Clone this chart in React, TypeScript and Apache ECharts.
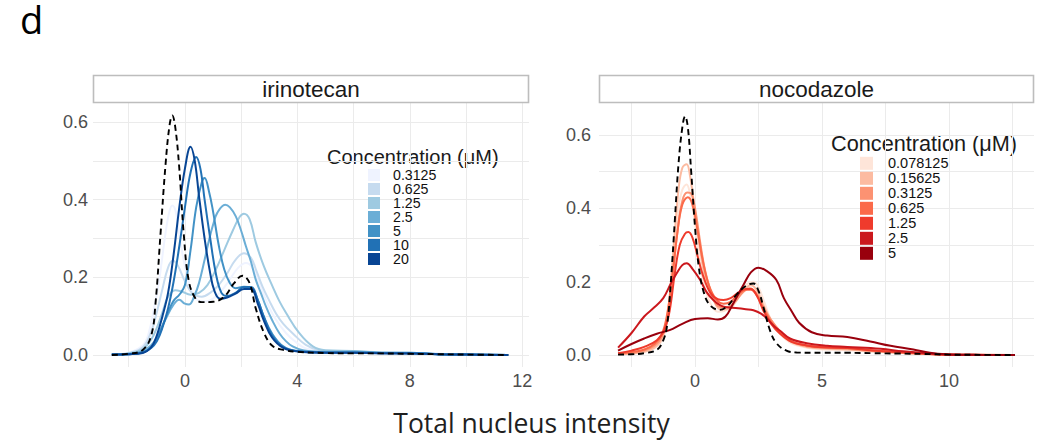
import React, { useEffect, useRef } from 'react';
import * as echarts from 'echarts';

// ---------- categories / legend ----------
const irinoConc = ['0.3125', '0.625', '1.25', '2.5', '5', '10', '20'];
const nocoConc = ['0.078125', '0.15625', '0.3125', '0.625', '1.25', '2.5', '5'];
const bluePalette = ['#eff3ff', '#c6dbef', '#9ecae1', '#6baed6', '#4292c6', '#2171b5', '#084594'];
const redPalette = ['#fee5d9', '#fcbba1', '#fc9272', '#fb6a4a', '#ef3b2c', '#cb181d', '#99000d'];

// ---------- tick labels ----------
const irinoXTicks = [0, 4, 8, 12];
const irinoXGrid = [-2, 0, 2, 4, 6, 8, 10, 12];
const nocoXTicks = [0, 5, 10];
const nocoXGrid = [-2.5, 0, 2.5, 5, 7.5, 10, 12.5];
const yTicks = [0, 0.2, 0.4, 0.6];
const yGrid = [0, 0.1, 0.2, 0.3, 0.4, 0.5, 0.6];

// ---------- irinotecan densities [x, density] ----------
const irinoControl = [[-2.6,0],[-2,0.003],[-1.5,0.013],[-1.2,0.05],[-1.05,0.13],[-0.87,0.31],[-0.69,0.49],[-0.55,0.59],[-0.45,0.617],[-0.35,0.59],[-0.21,0.49],[-0.04,0.31],[0.14,0.19],[0.38,0.145],[0.6,0.136],[1.0,0.137],[1.4,0.15],[1.75,0.185],[2.05,0.204],[2.3,0.185],[2.52,0.12],[2.82,0.056],[3.12,0.023],[3.5,0.013],[4,0.008],[5,0.005],[6,0.004],[7,0.004],[8,0.003],[9,0.002],[10,0.001],[11.5,0]];
const irino0p3125 = [[-2.6,0.001],[-2,0.006],[-1.5,0.025],[-1.29,0.056],[-1.1,0.12],[-0.93,0.185],[-0.69,0.314],[-0.55,0.37],[-0.45,0.385],[-0.33,0.37],[-0.21,0.314],[0,0.228],[0.26,0.16],[0.5,0.14],[0.74,0.138],[1.0,0.145],[1.3,0.165],[1.6,0.195],[1.9,0.225],[2.17,0.237],[2.4,0.225],[2.65,0.185],[2.88,0.142],[3.2,0.095],[3.6,0.056],[4.0,0.03],[4.3,0.017],[5,0.01],[6,0.008],[7,0.007],[8,0.006],[9,0.003],[10,0.001],[11.5,0]];
const irino0p625 = [[-2.6,0.001],[-2,0.005],[-1.5,0.02],[-1.2,0.06],[-1.0,0.11],[-0.8,0.17],[-0.6,0.225],[-0.43,0.243],[-0.25,0.23],[0,0.19],[0.26,0.159],[0.6,0.15],[0.9,0.16],[1.2,0.18],[1.5,0.21],[1.8,0.245],[2.1,0.262],[2.35,0.25],[2.55,0.215],[2.76,0.176],[3.0,0.14],[3.24,0.107],[3.5,0.08],[3.83,0.056],[4.3,0.026],[4.8,0.012],[5.5,0.009],[6.5,0.008],[7.5,0.006],[8.5,0.004],[9.5,0.002],[11.5,0]];
const irino1p25 = [[-2.6,0.001],[-2,0.004],[-1.5,0.015],[-1.2,0.04],[-1.0,0.07],[-0.8,0.11],[-0.6,0.15],[-0.35,0.167],[-0.1,0.163],[0.2,0.155],[0.5,0.16],[0.8,0.18],[1.1,0.22],[1.4,0.27],[1.7,0.32],[1.95,0.356],[2.1,0.364],[2.3,0.35],[2.52,0.29],[2.8,0.23],[3.12,0.176],[3.35,0.14],[3.6,0.108],[4.07,0.056],[4.55,0.022],[5,0.012],[6,0.01],[7,0.006],[8,0.006],[9,0.002],[10,0.001],[11.5,0]];
const irino2p5 = [[-2.6,0.001],[-2,0.003],[-1.5,0.01],[-1.2,0.025],[-1.0,0.045],[-0.7,0.09],[-0.4,0.13],[-0.2,0.142],[0,0.132],[0.15,0.13],[0.35,0.155],[0.5,0.185],[0.7,0.245],[0.86,0.297],[1.0,0.335],[1.15,0.366],[1.43,0.387],[1.6,0.38],[1.81,0.357],[2.0,0.32],[2.17,0.28],[2.35,0.24],[2.52,0.194],[2.7,0.16],[2.88,0.125],[3.1,0.09],[3.36,0.056],[3.6,0.035],[3.83,0.022],[4.2,0.012],[5,0.008],[6,0.009],[7,0.006],[8,0.006],[9,0.002],[10,0.001],[11.5,0]];
const irino5 = [[-2.6,0.001],[-2,0.002],[-1.5,0.006],[-1.2,0.02],[-1.0,0.04],[-0.8,0.075],[-0.6,0.11],[-0.4,0.14],[-0.2,0.155],[0,0.18],[0.2,0.27],[0.4,0.38],[0.6,0.445],[0.7,0.456],[0.86,0.42],[1.0,0.37],[1.21,0.28],[1.4,0.22],[1.6,0.185],[1.8,0.172],[2.1,0.176],[2.35,0.174],[2.6,0.14],[2.8,0.1],[3.1,0.055],[3.5,0.022],[4,0.01],[5,0.007],[6,0.007],[7,0.005],[8,0.005],[9,0.002],[10,0.001],[11.5,0]];
const irino10 = [[-2.6,0.001],[-2,0.002],[-1.5,0.007],[-1.2,0.018],[-1.0,0.035],[-0.8,0.07],[-0.6,0.12],[-0.4,0.19],[-0.2,0.28],[0,0.38],[0.2,0.47],[0.4,0.51],[0.55,0.48],[0.7,0.4],[0.9,0.3],[1.1,0.21],[1.3,0.16],[1.5,0.152],[1.8,0.16],[2.1,0.175],[2.35,0.175],[2.6,0.14],[2.8,0.1],[3.1,0.05],[3.5,0.02],[4,0.01],[5,0.006],[6,0.006],[7,0.005],[8,0.004],[9,0.002],[10,0.001],[11.5,0]];
const irino20 = [[-2.6,0.001],[-2,0.002],[-1.5,0.005],[-1.2,0.02],[-1.0,0.05],[-0.8,0.1],[-0.6,0.16],[-0.4,0.26],[-0.2,0.38],[0,0.48],[0.2,0.536],[0.35,0.5],[0.5,0.41],[0.7,0.3],[0.9,0.21],[1.05,0.165],[1.25,0.145],[1.5,0.148],[1.8,0.158],[2.1,0.17],[2.35,0.17],[2.6,0.13],[2.8,0.09],[3.1,0.045],[3.5,0.018],[4,0.009],[5,0.006],[6,0.006],[7,0.004],[8,0.004],[9,0.002],[10,0.001],[11.5,0]];

// ---------- nocodazole densities [x, density] ----------
const nocoControl = [[-3.03,0.001],[-2.5,0.002],[-2,0.005],[-1.5,0.014],[-1.25,0.04],[-1.1,0.08],[-0.95,0.2],[-0.8,0.36],[-0.65,0.52],[-0.5,0.62],[-0.39,0.651],[-0.28,0.62],[-0.15,0.5],[0,0.35],[0.15,0.24],[0.35,0.17],[0.6,0.135],[0.98,0.123],[1.3,0.135],[1.64,0.165],[2.0,0.188],[2.3,0.195],[2.5,0.175],[2.69,0.132],[2.95,0.068],[3.21,0.032],[3.6,0.012],[4,0.007],[5,0.006],[6,0.006],[7,0.005],[8,0.004],[9,0.003],[10,0.001],[11,0.0005],[12.6,0]];
const noco0p078 = [[-3.03,0.002],[-2.5,0.004],[-2,0.008],[-1.6,0.018],[-1.3,0.04],[-1.1,0.09],[-0.95,0.18],[-0.8,0.3],[-0.65,0.4],[-0.5,0.45],[-0.33,0.465],[-0.2,0.44],[0,0.36],[0.2,0.25],[0.4,0.18],[0.65,0.135],[0.9,0.118],[1.15,0.12],[1.5,0.145],[1.9,0.185],[2.3,0.2],[2.5,0.185],[2.75,0.14],[3.0,0.095],[3.35,0.058],[3.8,0.032],[4.4,0.02],[5,0.015],[6,0.013],[7,0.009],[8,0.006],[9,0.003],[10,0.001],[12.6,0]];
const noco0p156 = [[-3.03,0.002],[-2.5,0.004],[-2,0.009],[-1.6,0.02],[-1.3,0.045],[-1.1,0.1],[-0.95,0.2],[-0.8,0.33],[-0.65,0.45],[-0.5,0.51],[-0.33,0.52],[-0.2,0.49],[0,0.39],[0.2,0.29],[0.4,0.21],[0.7,0.155],[1.0,0.125],[1.3,0.125],[1.6,0.145],[1.9,0.175],[2.2,0.19],[2.45,0.175],[2.7,0.135],[3.0,0.095],[3.35,0.062],[3.8,0.035],[4.4,0.022],[5,0.018],[6,0.015],[7,0.01],[8,0.006],[9,0.003],[10,0.001],[12.6,0]];
const noco0p3125 = [[-3.03,0.003],[-2.5,0.006],[-2,0.012],[-1.6,0.025],[-1.3,0.05],[-1.1,0.1],[-0.9,0.2],[-0.7,0.33],[-0.5,0.42],[-0.3,0.443],[-0.15,0.44],[0,0.4],[0.2,0.31],[0.4,0.23],[0.7,0.16],[1.0,0.13],[1.3,0.13],[1.6,0.148],[1.9,0.172],[2.15,0.182],[2.4,0.17],[2.7,0.13],[3.0,0.095],[3.35,0.065],[3.8,0.038],[4.4,0.024],[5,0.02],[6,0.017],[7,0.011],[8,0.007],[9,0.003],[10,0.001],[12.6,0]];
const noco0p625 = [[-3.03,0.004],[-2.5,0.008],[-2,0.015],[-1.6,0.03],[-1.3,0.058],[-1.1,0.11],[-0.9,0.21],[-0.7,0.33],[-0.5,0.41],[-0.28,0.43],[-0.1,0.41],[0.1,0.34],[0.3,0.26],[0.55,0.19],[0.85,0.15],[1.12,0.14],[1.4,0.145],[1.7,0.165],[2.0,0.178],[2.2,0.178],[2.45,0.16],[2.7,0.125],[3.0,0.09],[3.35,0.062],[3.8,0.038],[4.4,0.026],[5,0.022],[6,0.02],[7,0.013],[8,0.008],[9,0.004],[10,0.001],[12.6,0]];
const noco1p25 = [[-3.03,0.005],[-2.5,0.012],[-2,0.022],[-1.5,0.04],[-1.2,0.07],[-1.0,0.12],[-0.8,0.22],[-0.6,0.3],[-0.4,0.33],[-0.26,0.335],[-0.1,0.32],[0.1,0.27],[0.3,0.22],[0.6,0.17],[0.9,0.152],[1.12,0.15],[1.4,0.155],[1.7,0.17],[2.0,0.18],[2.2,0.18],[2.45,0.16],[2.7,0.12],[3.0,0.085],[3.35,0.058],[3.8,0.036],[4.4,0.026],[5,0.021],[6,0.019],[7,0.012],[8,0.008],[9,0.004],[10,0.001],[12.6,0]];
const noco2p5 = [[-3.03,0.02],[-2.5,0.06],[-2.0,0.105],[-1.6,0.13],[-1.25,0.155],[-0.95,0.195],[-0.72,0.223],[-0.5,0.245],[-0.33,0.25],[-0.1,0.235],[0.2,0.205],[0.45,0.172],[0.72,0.15],[1.0,0.135],[1.25,0.13],[1.6,0.128],[2.0,0.125],[2.3,0.122],[2.6,0.113],[2.82,0.1],[3.1,0.08],[3.35,0.066],[3.74,0.045],[4.4,0.032],[5.2,0.025],[6,0.022],[7.3,0.017],[8.2,0.01],[9.1,0.005],[10,0.001],[11,0.0005],[12.6,0]];
const noco5 = [[-3.03,0.012],[-2.5,0.03],[-2.0,0.045],[-1.5,0.058],[-1.0,0.068],[-0.5,0.085],[0,0.098],[0.5,0.1],[0.9,0.097],[1.2,0.105],[1.5,0.14],[1.9,0.19],[2.2,0.225],[2.5,0.238],[2.8,0.23],[3.2,0.205],[3.5,0.155],[3.8,0.12],[4.1,0.088],[4.6,0.062],[5.2,0.053],[6,0.049],[6.9,0.037],[7.7,0.025],[8.6,0.015],[9.25,0.006],[9.9,0.002],[11,0.0005],[12.6,0]];

const irinoSeriesData = [irino0p3125, irino0p625, irino1p25, irino2p5, irino5, irino10, irino20];
const nocoSeriesData = [noco0p078, noco0p156, noco0p3125, noco0p625, noco1p25, noco2p5, noco5];

const LABEL_FONT = 'Liberation Sans';
const gridColor = '#ebebeb';

function makeXAxis(gridIndex: number, min: number, max: number, ticks: number[], grid: number[]) {
  return {
    type: 'value', gridIndex, min, max,
    axisLine: { show: false },
    axisTick: { show: false, customValues: grid },
    axisLabel: { customValues: ticks, fontSize: 18, color: '#4d4d4d', fontFamily: LABEL_FONT, margin: 5 },
    splitLine: { show: true, lineStyle: { color: gridColor, width: 1 } },
  };
}
function makeYAxis(gridIndex: number, min: number, max: number, margin: number) {
  return {
    type: 'value', gridIndex, min, max,
    axisLine: { show: false },
    axisTick: { show: false, customValues: yGrid },
    axisLabel: { customValues: yTicks, fontSize: 18, color: '#4d4d4d', fontFamily: LABEL_FONT, margin, formatter: (v: number) => v.toFixed(1) },
    splitLine: { show: true, lineStyle: { color: gridColor, width: 1 } },
  };
}

function buildOption() {
  const series: any[] = [];
  irinoConc.forEach((c, i) => {
    series.push({
      type: 'line', name: c, xAxisIndex: 0, yAxisIndex: 0, data: irinoSeriesData[i],
      showSymbol: false, symbol: 'none', smooth: 0.4, z: 2,
      lineStyle: { color: bluePalette[i], width: 2 }, itemStyle: { color: bluePalette[i] },
    });
  });
  series.push({
    type: 'line', name: 'control', xAxisIndex: 0, yAxisIndex: 0, data: irinoControl,
    showSymbol: false, symbol: 'none', smooth: 0.4, z: 3,
    lineStyle: { color: '#000', width: 1.9, type: [6, 4] }, itemStyle: { color: '#000' },
  });
  nocoConc.forEach((c, i) => {
    series.push({
      type: 'line', name: c, xAxisIndex: 1, yAxisIndex: 1, data: nocoSeriesData[i],
      showSymbol: false, symbol: 'none', smooth: 0.4, z: 2,
      lineStyle: { color: redPalette[i], width: 2 }, itemStyle: { color: redPalette[i] },
    });
  });
  series.push({
    type: 'line', name: 'control', xAxisIndex: 1, yAxisIndex: 1, data: nocoControl,
    showSymbol: false, symbol: 'none', smooth: 0.4, z: 3,
    lineStyle: { color: '#000', width: 1.9, type: [6, 4] }, itemStyle: { color: '#000' },
  });

  const strip = (x: number, w: number, label: string) => ([
    { type: 'rect', shape: { x, y: 75.5, width: w, height: 27 }, style: { fill: '#fff', stroke: '#bdbdbd', lineWidth: 1.6 }, z: 10 },
    { type: 'text', x: x + w / 2, y: 89, style: { text: label, fontSize: 22.5, fontFamily: LABEL_FONT, fill: '#1a1a1a', textAlign: 'center', textVerticalAlign: 'middle' }, z: 11 },
  ]);

  const legTextL = { fontSize: 14.2, fontFamily: LABEL_FONT, color: '#111', padding: [0, 0, 0, 8] };
  const legTextR = { fontSize: 14.5, fontFamily: LABEL_FONT, color: '#111', padding: [0, 0, 0, 10] };

  return {
    animation: false,
    backgroundColor: '#fff',
    grid: [
      { left: 93, top: 103, width: 436, height: 264 },
      { left: 599, top: 103, width: 435, height: 264 },
    ],
    xAxis: [
      makeXAxis(0, -3.27, 12.24, irinoXTicks, irinoXGrid),
      makeXAxis(1, -3.78, 13.35, nocoXTicks, nocoXGrid),
    ],
    yAxis: [
      makeYAxis(0, -0.031, 0.649, 5),
      makeYAxis(1, -0.0327, 0.687, 8),
    ],
    legend: [
      {
        orient: 'vertical', left: 368, top: 168, padding: 0, itemWidth: 12, itemHeight: 12, itemGap: 0,
        icon: 'rect', selectedMode: false,
        data: irinoConc.map((c, i) => ({ name: c, icon: 'rect', itemStyle: { color: bluePalette[i], borderWidth: 0 }, textStyle: legTextL })),
        textStyle: legTextL,
      },
      {
        orient: 'vertical', left: 860, top: 155.8, padding: 0, itemWidth: 13, itemHeight: 13, itemGap: 0,
        icon: 'rect', selectedMode: false,
        data: nocoConc.map((c, i) => ({ name: c, icon: 'rect', itemStyle: { color: redPalette[i], borderWidth: 0 }, textStyle: legTextR })),
        textStyle: legTextR,
      },
    ],
    graphic: [
      { type: 'text', x: 20, y: 19, style: { text: 'd', fontSize: 38, fontFamily: 'Open Sans', fill: '#000', textAlign: 'left', textVerticalAlign: 'middle' } },
      ...strip(93.5, 435, 'irinotecan'),
      ...strip(599.5, 434, 'nocodazole'),
      { type: 'text', x: 327, y: 157, style: { text: 'Concentration (μM)', fontSize: 20, fontFamily: LABEL_FONT, fill: '#1a1a1a', textAlign: 'left', textVerticalAlign: 'middle' } },
      { type: 'text', x: 831, y: 143, style: { text: 'Concentration (μM)', fontSize: 21.7, fontFamily: LABEL_FONT, fill: '#1a1a1a', textAlign: 'left', textVerticalAlign: 'middle' } },
      { type: 'text', x: 531.5, y: 423, style: { text: 'Total nucleus intensity', fontSize: 26.5, fontFamily: 'Open Sans', fill: '#1f1f1f', textAlign: 'center', textVerticalAlign: 'middle' } },
    ],
    series,
  };
}

export default function App() {
  const ref = useRef<HTMLDivElement>(null);
  useEffect(() => {
    if (!ref.current) return;
    const chart = echarts.init(ref.current, null, { renderer: 'svg' });
    chart.setOption(buildOption() as any);
    return () => chart.dispose();
  }, []);
  return <div ref={ref} style={{ position: 'absolute', left: 0, top: 0, width: 1051, height: 446, background: '#fff' }} />;
}
